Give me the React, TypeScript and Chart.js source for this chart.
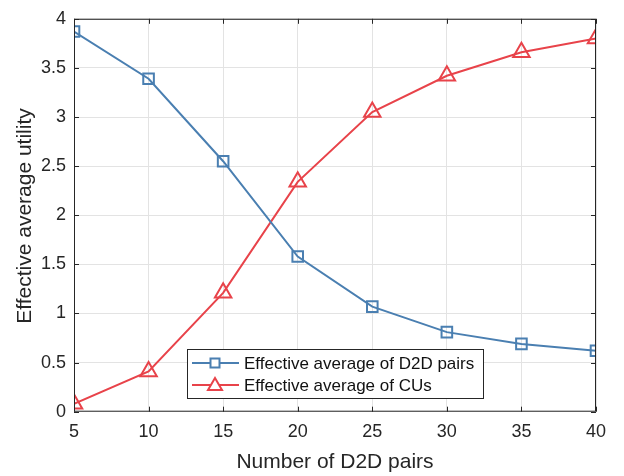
import React, { useEffect, useRef } from "react";
import { Chart, registerables } from "chart.js";

Chart.register(...registerables);

const xValues = [5, 10, 15, 20, 25, 30, 35, 40];
const d2dValues = [3.87, 3.39, 2.55, 1.58, 1.07, 0.81, 0.69, 0.62];
const cuValues = [0.08, 0.41, 1.21, 2.34, 3.05, 3.42, 3.66, 3.8];
const seriesLabels = ["Effective average of D2D pairs", "Effective average of CUs"];
const xTitle = "Number of D2D pairs";
const yTitle = "Effective average utility";

const BLUE = "#4a7fb1";
const RED = "#e8434a";
const AXIS = "#262626";
const FONT = "'Liberation Sans', Arial, sans-serif";

const boxPlugin = {
  id: "matlabBox",
  afterDatasetsDraw(chart: any) {
    const { ctx, chartArea: a, scales } = chart;
    ctx.save();
    ctx.strokeStyle = AXIS;
    ctx.lineWidth = 1;
    ctx.strokeRect(a.left + 0.5, a.top + 0.5, a.right - a.left - 1, a.bottom - a.top - 1);
    const tl = 5;
    ctx.beginPath();
    scales.x.ticks.forEach((t: any) => {
      const px = Math.round(scales.x.getPixelForValue(t.value)) + 0.5;
      ctx.moveTo(px, a.bottom);
      ctx.lineTo(px, a.bottom - tl);
      ctx.moveTo(px, a.top);
      ctx.lineTo(px, a.top + tl);
    });
    scales.y.ticks.forEach((t: any) => {
      const py = Math.round(scales.y.getPixelForValue(t.value)) + 0.5;
      ctx.moveTo(a.left, py);
      ctx.lineTo(a.left + tl, py);
      ctx.moveTo(a.right, py);
      ctx.lineTo(a.right - tl, py);
    });
    ctx.stroke();

    // y axis title
    ctx.save();
    ctx.translate(25, 216);
    ctx.rotate(-Math.PI / 2);
    ctx.font = `21px ${FONT}`;
    ctx.fillStyle = AXIS;
    ctx.textAlign = "center";
    ctx.textBaseline = "middle";
    ctx.fillText(yTitle, 0, 0);
    ctx.restore();

    // legend
    const lx = 187, ly = 349, lw = 296, lh = 49;
    ctx.fillStyle = "#ffffff";
    ctx.fillRect(lx, ly, lw, lh);
    ctx.strokeStyle = AXIS;
    ctx.lineWidth = 1;
    ctx.strokeRect(lx + 0.5, ly + 0.5, lw, lh);
    const items = [
      { label: seriesLabels[0], color: BLUE, marker: "rect" },
      { label: seriesLabels[1], color: RED, marker: "triangle" },
    ];
    ctx.font = `17px ${FONT}`;
    ctx.textBaseline = "middle";
    items.forEach((it, i) => {
      const cy = ly + 14 + i * 22;
      ctx.strokeStyle = it.color;
      ctx.lineWidth = 2;
      ctx.beginPath();
      ctx.moveTo(lx + 5, cy);
      ctx.lineTo(lx + 52, cy);
      ctx.stroke();
      const mx = lx + 28;
      ctx.lineWidth = 2;
      ctx.fillStyle = "#ffffff";
      if (it.marker === "rect") {
        ctx.fillRect(mx - 4.5, cy - 4.5, 9, 9);
        ctx.strokeRect(mx - 4.5, cy - 4.5, 9, 9);
      } else {
        ctx.beginPath();
        ctx.moveTo(mx, cy - 7);
        ctx.lineTo(mx + 7, cy + 5);
        ctx.lineTo(mx - 7, cy + 5);
        ctx.closePath();
        ctx.fill();
        ctx.stroke();
      }
      ctx.fillStyle = "#111111";
      ctx.fillText(it.label, lx + 57, cy + 1);
    });
    ctx.restore();
  },
};

export default function App() {
  const ref = useRef<HTMLCanvasElement>(null);
  useEffect(() => {
    if (!ref.current) return;
    const chart = new Chart(ref.current, {
      type: "line",
      data: {
        datasets: [
          {
            label: seriesLabels[0],
            data: xValues.map((x, i) => ({ x, y: d2dValues[i] })),
            borderColor: BLUE,
            backgroundColor: "rgba(0,0,0,0)",
            borderWidth: 2,
            pointStyle: "rect",
            pointRadius: 7.5,
            pointBorderWidth: 2,
            pointBorderColor: BLUE,
            pointBackgroundColor: "rgba(0,0,0,0)",
          },
          {
            label: seriesLabels[1],
            data: xValues.map((x, i) => ({ x, y: cuValues[i] })),
            borderColor: RED,
            backgroundColor: "rgba(0,0,0,0)",
            borderWidth: 2,
            pointStyle: "triangle",
            pointRadius: 9.5,
            pointBorderWidth: 2,
            pointBorderColor: RED,
            pointBackgroundColor: "rgba(0,0,0,0)",
          },
        ],
      },
      options: {
        responsive: false,
        animation: false,
        layout: { padding: { top: 6, right: 28, left: 0, bottom: 0 } },
        plugins: { legend: { display: false }, tooltip: { enabled: false } },
        scales: {
          x: {
            type: "linear",
            min: 5,
            max: 40,
            afterFit: (s: any) => { s.height = 64.3; },
            ticks: { stepSize: 5, padding: 10, color: AXIS, font: { family: FONT, size: 18 } },
            grid: { color: "#e3e3e3", drawTicks: false },
            border: { display: false },
            title: { display: true, text: xTitle, color: AXIS, font: { family: FONT, size: 21 }, padding: { top: 0, bottom: 1.4 } },
          },
          y: {
            min: 0,
            max: 4,
            afterFit: (s: any) => { s.width = 74; },
            ticks: {
              stepSize: 0.5,
              padding: 8,
              color: AXIS,
              font: { family: FONT, size: 18 },
              callback: (v: any) => String(Number(v)),
            },
            grid: { color: "#e3e3e3", drawTicks: false },
            border: { display: false },
            title: { display: false },
          },
        },
      },
      plugins: [boxPlugin],
    } as any);
    return () => chart.destroy();
  }, []);
  return (
    <div style={{ position: "fixed", left: 0, top: 0, width: 624, height: 476, background: "#fff" }}>
      <canvas ref={ref} width={624} height={476} />
    </div>
  );
}
